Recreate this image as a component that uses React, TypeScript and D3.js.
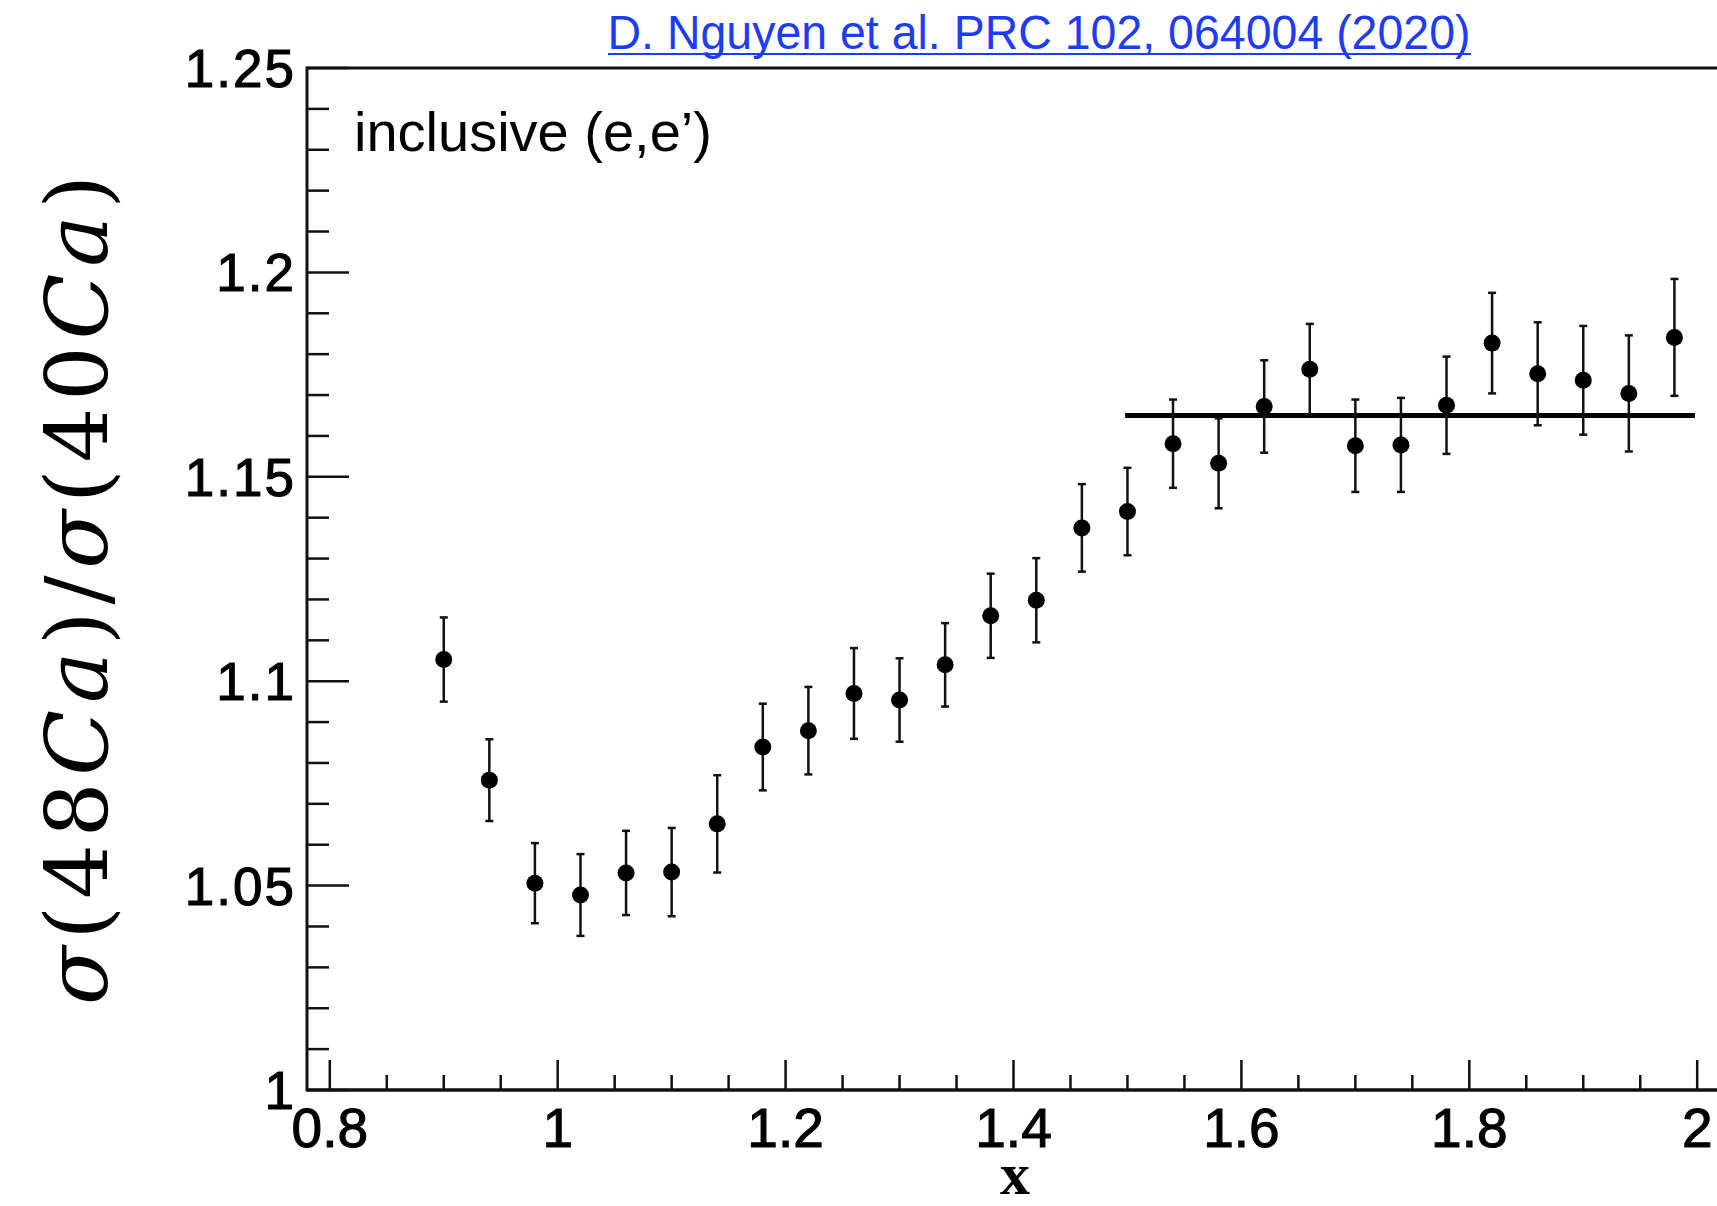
import React from "react";
import * as d3 from "d3";

const xValues = [0.90, 0.94, 0.98, 1.02, 1.06, 1.10, 1.14, 1.18, 1.22, 1.26, 1.30, 1.34, 1.38, 1.42, 1.46, 1.50, 1.54, 1.58, 1.62, 1.66, 1.70, 1.74, 1.78, 1.82, 1.86, 1.90, 1.94, 1.98];
const ratioValues = [1.1053, 1.0758, 1.0506, 1.0477, 1.0531, 1.0533, 1.0651, 1.0839, 1.0879, 1.0970, 1.0954, 1.1040, 1.1160, 1.1198, 1.1375, 1.1415, 1.1581, 1.1533, 1.1672, 1.1763, 1.1576, 1.1578, 1.1675, 1.1827, 1.1752, 1.1736, 1.1704, 1.1841];
const ratioErrors = [0.0103, 0.0100, 0.0098, 0.0100, 0.0103, 0.0108, 0.0119, 0.0106, 0.0107, 0.0111, 0.0102, 0.0102, 0.0103, 0.0103, 0.0107, 0.0107, 0.0108, 0.0110, 0.0113, 0.0111, 0.0113, 0.0115, 0.0119, 0.0123, 0.0126, 0.0133, 0.0142, 0.0143];
const fitRange = [1.498, 1.998];
const fitValue = 1.165;
const yMajorTicks = [1, 1.05, 1.1, 1.15, 1.2, 1.25];
const yTickLabels = ["1", "1.05", "1.1", "1.15", "1.2", "1.25"];
const xMajorTicks = [0.8, 1.0, 1.2, 1.4, 1.6, 1.8, 2.0];
const xTickLabels = ["0.8", "1", "1.2", "1.4", "1.6", "1.8", "2"];
const titleText = "D. Nguyen et al. PRC 102, 064004 (2020)";
const annotationText = "inclusive (e,e\u2019)";

export default function App() {
  const W = 1717, H = 1206;
  const left = 307, right = 1720, top = 68, bottom = 1090;
  const x = d3.scaleLinear().domain([0.78, 2.02]).range([left, right]);
  const y = d3.scaleLinear().domain([1.0, 1.25]).range([bottom, top]);

  const yMinor = d3.range(1.0, 1.2501, 0.01).map((v) => +v.toFixed(2)).filter((v) => !yMajorTicks.some((m) => Math.abs(m - v) < 1e-6));
  const xMinor = d3.range(0.8, 2.0201, 0.05).map((v) => +v.toFixed(2)).filter((v) => !xMajorTicks.some((m) => Math.abs(m - v) < 1e-6));

  const sans = "'Liberation Sans', Arial, Helvetica, sans-serif";
  const capW = 4;

  return (
    <svg width={W} height={H} style={{ position: "absolute", left: 0, top: 0, background: "#fff" }}>
      <rect x={0} y={0} width={W} height={H} fill="#fff" />
      {/* title link */}
      <text x={1039} y={49} textAnchor="middle" fontFamily={sans} fontSize={49} fill="#1f3cf5" textLength={863} lengthAdjust="spacingAndGlyphs">{titleText}</text>
      <line x1={608} x2={1471} y1={54} y2={54} stroke="#1f3cf5" strokeWidth={2.2} />

      {/* frame */}
      <line x1={left} x2={W} y1={top} y2={top} stroke="#111" strokeWidth={3} />
      <line x1={left} x2={left} y1={top - 1.5} y2={bottom + 1.5} stroke="#111" strokeWidth={3} />
      <line x1={left} x2={W} y1={bottom} y2={bottom} stroke="#111" strokeWidth={3.5} />

      {/* y ticks */}
      {yMajorTicks.map((v) => (
        <line key={"ym" + v} x1={left} x2={left + 42} y1={y(v)} y2={y(v)} stroke="#111" strokeWidth={2.5} />
      ))}
      {yMinor.map((v) => (
        <line key={"yn" + v} x1={left} x2={left + 22} y1={y(v)} y2={y(v)} stroke="#111" strokeWidth={2.5} />
      ))}
      {yMajorTicks.map((v, i) => (
        <text key={"yl" + v} x={296} y={y(v)} dy="0.36em" textAnchor="end" fontFamily={sans} fontSize={53} letterSpacing={2} fill="#000" stroke="#000" strokeWidth={1.1}>{yTickLabels[i]}</text>
      ))}

      {/* x ticks */}
      {xMajorTicks.map((v) => (
        <line key={"xm" + v} x1={x(v)} x2={x(v)} y1={bottom} y2={bottom - 30} stroke="#111" strokeWidth={2.5} />
      ))}
      {xMinor.map((v) => (
        <line key={"xn" + v} x1={x(v)} x2={x(v)} y1={bottom} y2={bottom - 15} stroke="#111" strokeWidth={2.5} />
      ))}
      {xMajorTicks.map((v, i) => (
        <text key={"xl" + v} x={x(v)} y={1147} textAnchor="middle" fontFamily={sans} fontSize={55} fill="#000" stroke="#000" strokeWidth={1.1}>{xTickLabels[i]}</text>
      ))}

      {/* axis titles */}
      <text x={1015} y={1194} textAnchor="middle" fontFamily="'Liberation Serif', 'Times New Roman', serif" fontWeight="bold" fontSize={60} fill="#000">x</text>
      <text transform="translate(107,590) rotate(-90)" textAnchor="middle" fontFamily="'DejaVu Serif', serif" fontSize={86} fill="#000" textLength={830} lengthAdjust="spacing">
        <tspan fontStyle="italic">σ</tspan>
        <tspan>(48</tspan>
        <tspan fontStyle="italic">Ca</tspan>
        <tspan>)/</tspan>
        <tspan fontStyle="italic">σ</tspan>
        <tspan>(40</tspan>
        <tspan fontStyle="italic">Ca</tspan>
        <tspan>)</tspan>
      </text>

      {/* annotation */}
      <text x={354} y={151} fontFamily={sans} fontSize={56} fill="#000">{annotationText}</text>

      {/* fit line */}
      <line x1={x(fitRange[0])} x2={x(fitRange[1])} y1={y(fitValue)} y2={y(fitValue)} stroke="#000" strokeWidth={5} />

      {/* error bars and points */}
      {xValues.map((xv, i) => {
        const cx = x(xv);
        const yt = y(ratioValues[i] + ratioErrors[i]);
        const yb = y(ratioValues[i] - ratioErrors[i]);
        return (
          <g key={"p" + i}>
            <line x1={cx} x2={cx} y1={yt} y2={yb} stroke="#111" strokeWidth={2.5} />
            <line x1={cx - capW} x2={cx + capW} y1={yt} y2={yt} stroke="#111" strokeWidth={2.5} />
            <line x1={cx - capW} x2={cx + capW} y1={yb} y2={yb} stroke="#111" strokeWidth={2.5} />
            <circle cx={cx} cy={y(ratioValues[i])} r={8.5} fill="#000" />
          </g>
        );
      })}
    </svg>
  );
}
